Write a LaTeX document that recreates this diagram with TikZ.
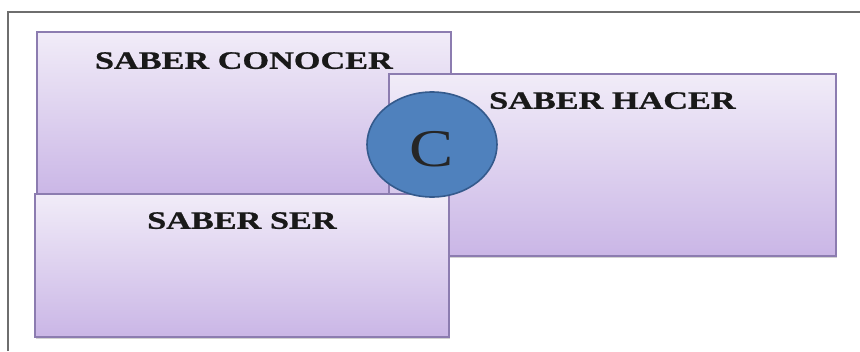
\documentclass[tikz,border=0pt]{standalone}
\usepackage{fontspec}
\setmainfont{Liberation Serif}
\newfontfamily\lblfont[FakeBold=0.8]{Liberation Serif Bold}
\usetikzlibrary{calc,shadows,shapes.geometric}
\definecolor{boxtop}{RGB}{241,236,248}
\definecolor{boxbot}{RGB}{202,182,230}
\definecolor{boxline}{RGB}{140,124,176}
\definecolor{cfill}{RGB}{79,129,189}
\definecolor{cline}{RGB}{52,90,140}
\definecolor{framegray}{RGB}{110,110,110}
\tikzset{
  knowbox/.style={rectangle, draw=boxline, line width=1.8pt, top color=boxtop, bottom color=boxbot,
    anchor=north west, inner sep=0pt,
    drop shadow={opacity=0.35, shadow xshift=1.2pt, shadow yshift=-1.6pt}},
  boxlabel/.style={anchor=north, inner sep=0pt, text=black!90,
    font=\lblfont\fontsize{25}{30}\selectfont},
  cbubble/.style={ellipse, draw=cline, line width=1.6pt, fill=cfill, inner sep=0pt,
    minimum width=130pt, minimum height=105pt},
}
\begin{document}
\begin{tikzpicture}[x=1pt,y=-1pt]
\useasboundingbox (0,0) rectangle (860,351);
\fill[white] (0,0) rectangle (860,351);
\draw[framegray, line width=2pt] (8,351) -- (8,12) -- (860,12);
% boxes
\node[knowbox, minimum width=414pt, minimum height=164pt] (conocer) at (36,31) {};
\node[knowbox, minimum width=447pt, minimum height=182pt] (hacer) at (388,73) {};
\node[knowbox, minimum width=414pt, minimum height=143pt] (ser) at (34,193) {};
% labels
\node[boxlabel] (lconocer) at ($(conocer.north)+(0,21)$) {\scalebox{1.37}[1]{SABER CONOCER}};
\node[boxlabel] (lhacer) at ($(hacer.north)+(0,19)$) {\scalebox{1.37}[1]{SABER HACER}};
\node[boxlabel] (lser) at ($(ser.north)+(0,19)$) {\scalebox{1.37}[1]{SABER SER}};
% circle
\node[cbubble] (c) at (432,144.5) {};
\node[inner sep=0pt, font=\fontsize{53}{60}\selectfont, text=black!85] (ctext) at ($(c.center)+(0,5)$) {\scalebox{1.25}[1]{C}};
\end{tikzpicture}
\end{document}
